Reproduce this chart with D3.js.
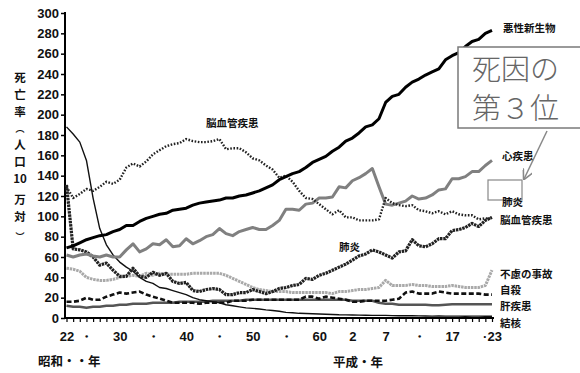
<!DOCTYPE html>
<html><head><meta charset="utf-8">
<script src="https://cdn.jsdelivr.net/npm/d3@7"></script>
<style>
html,body{margin:0;padding:0;background:#fff;}
svg{display:block;}
.num{font-family:"Liberation Sans",Arial,sans-serif;font-weight:bold;font-size:13px;fill:#111;}
.jp{font-family:"Noto Sans CJK JP",sans-serif;font-weight:bold;fill:#111;}
</style></head>
<body>
<svg id="c" width="580" height="373"></svg>
<script>
// ---- data (deaths per 100,000, 1947 = 昭和22 … 2011 = 平成23) ----
const startYear = 1947;
const cancer = [69,71,74,77,79,81,82,85,87,91,91,95,98,100,102,103,106,107,108,111,113,114,115,116,118,118,120,121,123,125,128,131,136,139,142,144,148,153,156,159,164,168,174,177,182,188,190,196,212,218,220,227,232,235,239,242,245,254,258,261,267,272,274,280,283];
const heart = [62,60,62,63,61,60,62,60,60,67,73,65,68,73,72,77,70,71,78,73,76,80,82,88,83,81,85,87,89,87,87,91,96,107,107,106,112,113,118,118,119,129,128,135,138,142,147,129,112,111,113,115,120,117,118,121,126,127,137,137,139,144,144,150,155];
const cerebro = [129,118,122,127,125,129,134,132,136,148,152,149,154,161,165,169,171,172,176,174,173,173,174,176,166,167,167,163,157,155,150,146,138,140,134,125,118,117,112,107,102,106,99,99,96,96,96,97,118,113,111,110,111,106,105,103,105,102,105,102,101,101,97,98,98];
const pneumonia = [131,68,67,65,60,52,54,47,41,41,49,41,40,45,42,44,36,34,35,27,26,28,29,28,23,23,25,25,28,26,24,26,29,30,32,33,39,38,42,44,47,50,53,57,61,63,67,65,62,59,65,66,77,71,70,73,78,78,86,87,89,93,90,96,99];
const tb = [188,181,173,155,118,88,72,62,55,50,46,40,36,34,30,29,27,25,23,20,18,17,16,15,13,12,11,10,9.5,8.9,8,7.4,6.6,5.5,5.2,4.6,4.4,4.2,3.9,3.7,3.5,3.2,3.1,3,2.8,2.7,2.6,2.6,2.6,2.3,2.2,2.2,2.3,2.1,2,1.8,1.9,1.8,1.8,1.8,1.7,1.8,1.8,1.7,1.7];
const accident = [49,48,46,40,38,37,37,38,40,41,42,41,44,42,44,43,43,43,43,44,44,44,44,44,42,39,36,33,30,28,27,26,26,26,25,25,25,25,25,25,24,26,26,27,28,28,29,30,37,32,32,32,33,32,32,31,31,31,32,31,30,30,30,32,47];
const suicide = [16,16,17,20,18,18,21,23,25,24,25,26,23,21,19,17,15,15,15,15,14,15,15,15,15,17,17,17,18,18,18,18,18,18,18,18,21,21,19,21,20,19,18,16,16,17,17,17,17,18,19,25,26,24,24,24,26,25,24,24,24,24,24,23,23];
const liver = [12,11,11,10,11,11,12,12,13,13,14,14,14,15,15,15,15,16,16,16,16,16,17,17,17,17,17,18,18,18,18,18,18,18,18,18,18,18,18,18,18,18,18,17,17,17,17,15,14,14,13,13,13,13,13,12.5,12.5,13,13.5,13.5,13.5,13.5,13.5,13.5,13.5];

const yTicks = [0,20,40,60,80,100,120,140,160,180,200,220,240,260,280,300];
const xTickYears = [1947,1950,1955,1960,1965,1970,1975,1980,1985,1990,1995,2000,2005,2011];
const xTickLabels = ["22","・","30","・","40","・","50","・","60","2","7","・","17","·23"];
const seriesNames = ["悪性新生物","心疾患","脳血管疾患","肺炎","結核","不慮の事故","自殺","肝疾患"];

// ---- chart ----
const svg = d3.select("#c");
const years = d3.range(startYear, startYear + cancer.length);
const x = d3.scaleLinear().domain([1947, 2011]).range([66.5, 492]);
const y = d3.scaleLinear().domain([0, 300]).range([318, 13]);

// axes
const yAxis = d3.axisLeft(y).tickValues(yTicks).tickSize(4).tickPadding(3);
const gy = svg.append("g").attr("transform", "translate(65,0)").call(yAxis);
gy.select(".domain").attr("stroke", "#000").attr("stroke-width", 2).attr("d", "M0,318V12");
gy.selectAll(".tick line").attr("stroke", "#000").attr("stroke-width", 1.5);
gy.selectAll(".tick text").attr("class", "num").attr("x", -6);

const xAxis = d3.axisBottom(x).tickValues(years).tickSize(4).tickFormat(d => {
  const i = xTickYears.indexOf(d); return i >= 0 ? xTickLabels[i] : "";
});
const gx = svg.append("g").attr("transform", "translate(0,318)").call(xAxis);
gx.select(".domain").attr("stroke", "#000").attr("stroke-width", 2).attr("d", "M64,0H494");
gx.selectAll(".tick line").attr("stroke", "#000").attr("stroke-width", 1.2);
gx.selectAll(".tick text").attr("class", "num").attr("dy", "0").attr("y", 23);

// lines
const line = d3.line().x((d, i) => x(years[i])).y(d => y(d)).curve(d3.curveLinear);
const styles = [
  {data: accident, stroke: "#a9a9a9", w: 3, dash: "2.5,0.8"},
  {data: liver, stroke: "#555", w: 2.6, dash: null},
  {data: suicide, stroke: "#111", w: 2.6, dash: "5,2.5"},
  {data: tb, stroke: "#111", w: 1.4, dash: null},
  {data: pneumonia, stroke: "#222", w: 3.2, dash: "2.5,0.8"},
  {data: heart, stroke: "#808080", w: 3, dash: null},
  {data: cerebro, stroke: "#222", w: 2.4, dash: "1.6,1.6"},
  {data: cancer, stroke: "#000", w: 3, dash: null}
];
styles.forEach(s => {
  svg.append("path").datum(s.data).attr("d", line)
    .attr("fill", "none").attr("stroke", s.stroke).attr("stroke-width", s.w)
    .attr("stroke-linejoin", "round")
    .attr("stroke-dasharray", s.dash);
});

// series labels
const lab = [
  [seriesNames[0], 503, 32],
  [seriesNames[1], 502, 160],
  [seriesNames[3], 502, 206],
  [seriesNames[2], 500, 224],
  [seriesNames[5], 500, 278],
  [seriesNames[6], 500, 294],
  [seriesNames[7], 500, 310],
  [seriesNames[4], 500, 327],
  [seriesNames[2], 206, 127],
  [seriesNames[3], 339, 251]
];
// box around 肺炎 label
svg.append("rect").attr("x", 488).attr("y", 180).attr("width", 34).attr("height", 20)
  .attr("fill", "#fff").attr("stroke", "#888").attr("stroke-width", 1.2);
lab.forEach(([t, lx, ly]) => {
  svg.append("text").attr("class", "jp").attr("x", lx).attr("y", ly)
    .attr("font-size", 10.5).text(t);
});

// callout
svg.append("rect").attr("x", 458).attr("y", 47).attr("width", 130).attr("height", 81)
  .attr("fill", "#fff").attr("stroke", "#7a7a7a").attr("stroke-width", 1.5);
svg.append("text").attr("x", 472).attr("y", 80).attr("font-family", "Noto Sans CJK JP")
  .attr("font-weight", 300).attr("font-size", 29).attr("fill", "#666").text("死因の");
svg.append("text").attr("x", 472).attr("y", 119).attr("font-family", "Noto Sans CJK JP")
  .attr("font-weight", 300).attr("font-size", 29).attr("fill", "#666").text("第３位");
svg.append("defs").append("marker").attr("id", "ah").attr("viewBox", "0 0 10 10")
  .attr("refX", 9).attr("refY", 5).attr("markerWidth", 7).attr("markerHeight", 7)
  .attr("orient", "auto").append("path").attr("d", "M0,0L10,5L0,10")
  .attr("fill", "none").attr("stroke", "#888").attr("stroke-width", 1.5);
svg.append("line").attr("x1", 547).attr("y1", 131).attr("x2", 524).attr("y2", 179)
  .attr("stroke", "#888").attr("stroke-width", 1.5).attr("marker-end", "url(#ah)");

// y-axis title (vertical)
const vt = [["死",82,11.5],["亡",99,11.5],["率",116,11.5],["︵",132,9],["人",149,11.5],["口",166,11.5],["10",183,11.5],["万",204,11.5],["対",221,11.5],["︶",240,9]];
vt.forEach(([ch, yy, fs]) => {
  svg.append("text").attr("class", "jp").attr("x", 20).attr("y", yy)
    .attr("text-anchor", "middle").attr("font-size", fs).text(ch);
});

// era labels
svg.append("text").attr("class", "jp").attr("x", 38).attr("y", 366).attr("font-size", 12.5).text("昭和・・年");
svg.append("text").attr("class", "jp").attr("x", 333).attr("y", 367).attr("font-size", 12.5).text("平成・年");
</script>
</body></html>
